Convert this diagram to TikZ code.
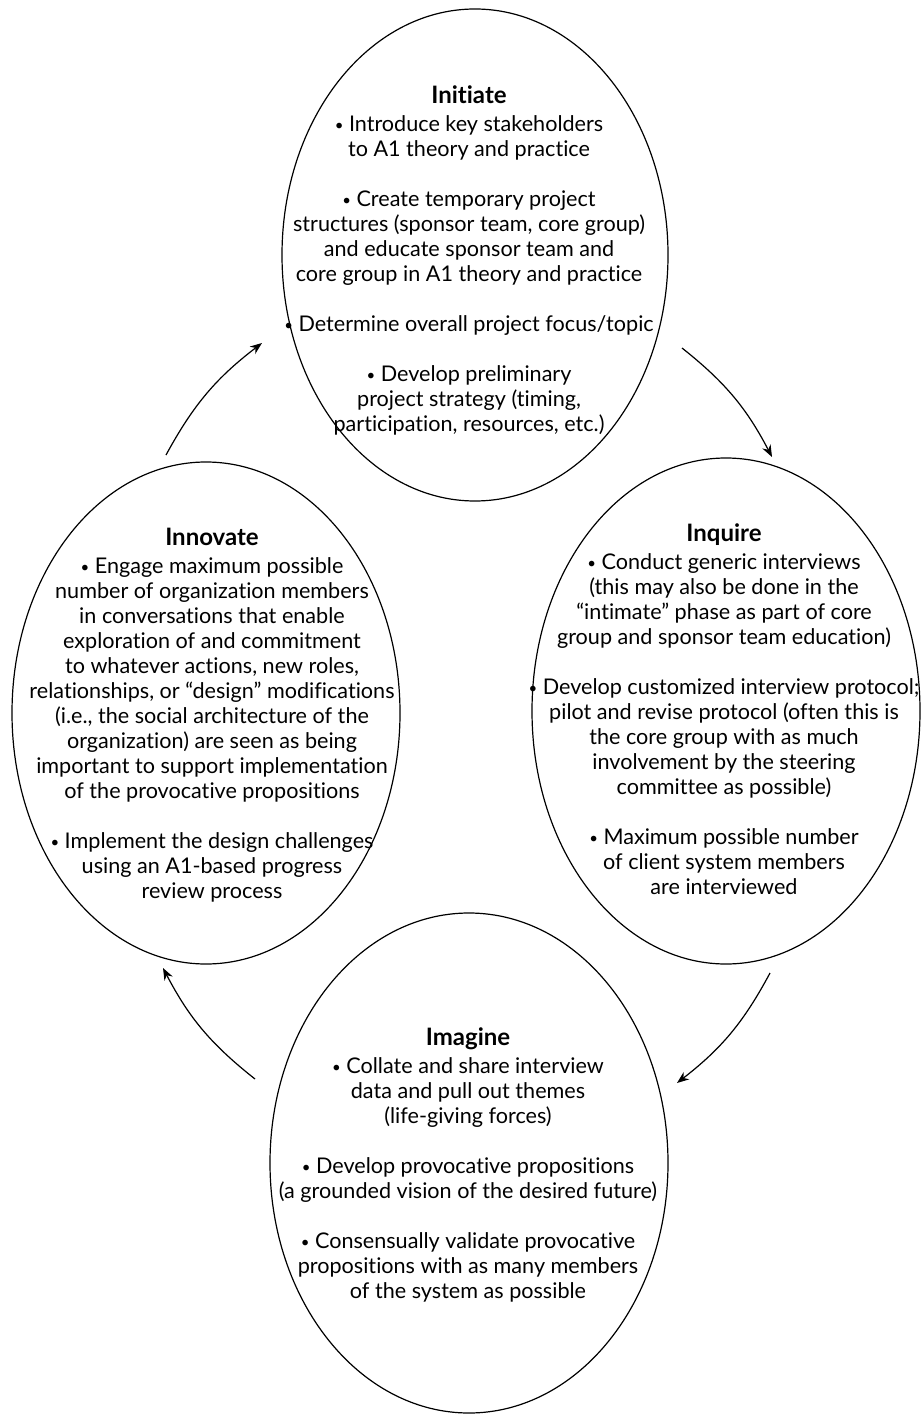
\documentclass[tikz,border=0pt]{standalone}
\usepackage{fontspec}
\setmainfont{Lato}[Ligatures={NoCommon}]
\usetikzlibrary{shapes.geometric,arrows.meta}

\newcommand{\phasetitle}[1]{{\fontsize{12pt}{12.5pt}\selectfont\bfseries #1}\\[1.5pt]}
\newcommand{\gap}{\\[12.5pt]}
\newcommand{\bul}{\raisebox{0.5pt}{\fontsize{7.5pt}{7.5pt}\selectfont •}\ }

\tikzset{
  phase/.style={draw, ellipse, line width=0.6pt, inner sep=0pt, outer sep=0pt},
  phasetext/.style={align=center, anchor=north, inner sep=0pt,
    font=\fontsize{10.8pt}{12.5pt}\selectfont},
  flow/.style={-{Stealth[length=6pt,width=4.6pt]}, line width=0.6pt},
}

\begin{document}
\begin{tikzpicture}[x=0.5pt,y=-0.5pt]
\useasboundingbox (0,0) rectangle (921,1417);

% the four phase ellipses (sizes in pt = radii in px)
\node[phase, minimum width=193pt, minimum height=246pt] (init) at (475,255) {};
\node[phase, minimum width=194pt, minimum height=251pt] (innov) at (206,713) {};
\node[phase, minimum width=194pt, minimum height=253pt] (inq) at (726,711) {};
\node[phase, minimum width=199pt, minimum height=250pt] (imag) at (469,1163) {};

% phase texts
\node[phasetext] (initT) at (469,85) {\phasetitle{Initiate}
\bul Introduce key stakeholders\\
to A1 theory and practice\gap
\bul Create temporary project\\
structures (sponsor team, core group)\\
and educate sponsor team and\\
core group in A1 theory and practice\gap
\bul Determine overall project focus/topic\gap
\bul Develop preliminary\\
project strategy (timing,\\
participation, resources, etc.)};

\node[phasetext] (innovT) at (212,528) {\phasetitle{Innovate}
\bul Engage maximum possible\\
number of organization members\\
in conversations that enable\\
exploration of and commitment\\
to whatever actions, new roles,\\
relationships, or “design” modifications\\
(i.e., the social architecture of the\\
organization) are seen as being\\
important to support implementation\\
of the provocative propositions\gap
\bul Implement the design challenges\\
using an A1-based progress\\
review process};

\node[phasetext] (inqT) at (724,523) {\phasetitle{Inquire}
\bul Conduct generic interviews\\
(this may also be done in the\\
“intimate” phase as part of core\\
group and sponsor team education)\gap
\bul Develop customized interview protocol;\\
pilot and revise protocol (often this is\\
the core group with as much\\
involvement by the steering\\
committee as possible)\gap
\bul Maximum possible number\\
of client system members\\
are interviewed};

\node[phasetext] (imagT) at (468,1027) {\phasetitle{Imagine}
\bul Collate and share interview\\
data and pull out themes\\
(life-giving forces)\gap
\bul Develop provocative propositions\\
(a grounded vision of the desired future)\gap
\bul Consensually validate provocative\\
propositions with as many members\\
of the system as possible};

% arrow ends in the gaps between the ellipses
\coordinate (innovOut) at (166,455);
\coordinate (initIn)   at (262,343);
\coordinate (initOut)  at (682,348);
\coordinate (inqIn)    at (772,457);
\coordinate (inqOut)   at (770,973);
\coordinate (imagIn)   at (677,1083);
\coordinate (imagOut)  at (255,1079);
\coordinate (innovIn)  at (163,968);

\draw[flow] (innovOut) to[bend left=12] (initIn);
\draw[flow] (initOut)  to[bend left=12] (inqIn);
\draw[flow] (inqOut)   to[bend left=12] (imagIn);
\draw[flow] (imagOut)  to[bend left=12] (innovIn);
\end{tikzpicture}
\end{document}
